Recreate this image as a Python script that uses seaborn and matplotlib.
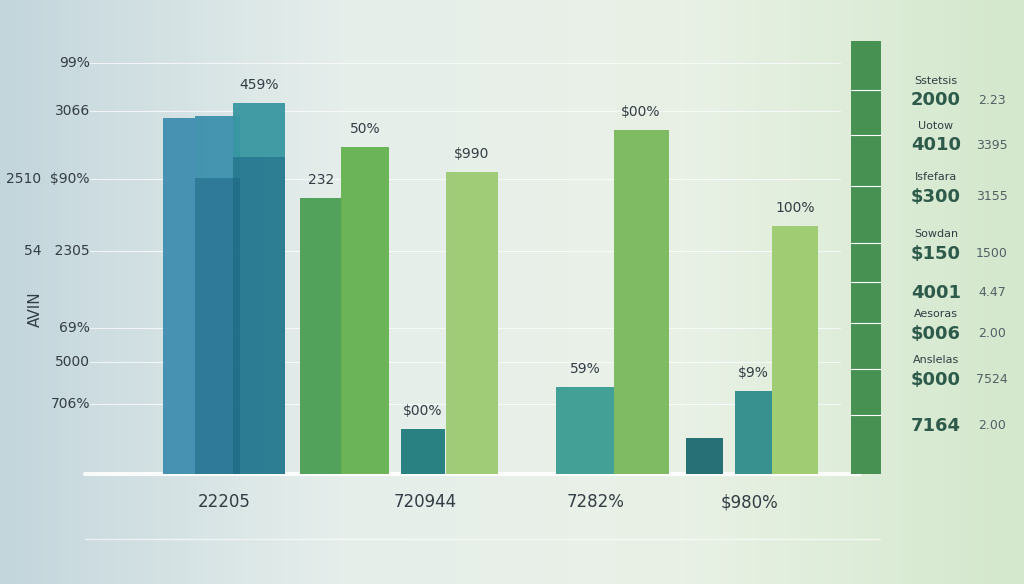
import numpy as np
import seaborn as sns
import matplotlib.pyplot as plt
from matplotlib.colors import LinearSegmentedColormap

# bar values (tall right bar = 100)
bar_x = [179, 217, 259, 321, 365, 472, 423, 585, 641, 704, 753, 795, 866]
bar_w = [32, 45, 52, 42, 48, 52, 44, 58, 55, 37, 37, 46, 30]
bar_vals = [82.2, 82.7, 85.7, 63.7, 75.5, 69.7, 10.4, 20.1, 79.4, 8.3, 19.2, 57.3, 100]
inner_vals = [None, 68.4, 73.2, None, None, None, None, None, None, None, None, None, None]
bar_colors = ["#3f8db0", "#3d90ad", "#3897a2", "#4a9e54", "#66b150", "#9cca72",
              "#1f7b7c", "#3a9c93", "#7ab95c", "#1c6a70", "#2f8c8a", "#9dcb6e", "#3f8c4c"]
bar_labels = ["", "", "459%", "232", "50%", "$990", "$00%", "59%", "$00%", "", "$9%", "100%", ""]

left_labels = ["99%", "3066", "2510  $90%", "54   2305", "69%", "5000", "706%"]
left_vals = [94.9, 83.8, 68.1, 51.5, 33.7, 25.9, 16.2]
x_labels = ["22205", "720944", "7282%", "$980%"]
x_pos = [224, 425, 596, 750]
right_big = ["2000", "4010", "$300", "$150", "4001", "$006", "$000", "7164"]
right_small = ["Sstetsis", "Uotow", "Isfefara", "Sowdan", "", "Aesoras", "Anslelas", ""]
right_num = ["2.23", "3395", "3155", "1500", "4.47", "2.00", "7524", "2.00"]
right_vals = [84.8, 74.4, 62.6, 49.4, 40.4, 30.9, 20.3, 9.7]

sns.set_theme(style="white")
plt.rcParams['font.family'] = ['DejaVu Sans']
fig = plt.figure(figsize=(10.24, 5.84), dpi=100)
ax = fig.add_axes([0, 0, 1, 1])
ax.set_xlim(0, 1024)
ax.set_ylim(-25.4, 109.5)
ax.axis("off")

cmap = LinearSegmentedColormap.from_list("bg", ["#c3d6dc", "#e6eeeb", "#e9f1e6", "#d3e8cc"])
grad = np.tile(np.linspace(0, 1, 256), (16, 1))
ax.imshow(grad, cmap=cmap, extent=[0, 1024, -25.4, 109.5], aspect="auto", zorder=0)

for v in [94.9, 83.8, 68.1, 51.5, 33.7, 25.9, 16.2]:
    ax.plot([90, 840], [v, v], color="white", lw=0.8, alpha=0.7, zorder=1)
ax.plot([85, 860], [0, 0], color="white", lw=3, alpha=0.9, zorder=1)
ax.plot([85, 880], [-15, -15], color="white", lw=1, alpha=0.6, zorder=1)

ax.bar(bar_x, bar_vals, width=bar_w, color=bar_colors, edgecolor="none", linewidth=0,
       zorder=2, alpha=0.95)
for x, w, v in zip(bar_x, bar_w, inner_vals):
    if v is not None:
        ax.bar(x, v, width=w, color="#1d6685", alpha=0.55, edgecolor="none", linewidth=0, zorder=3)
for x, v, t in zip(bar_x, bar_vals, bar_labels):
    if t:
        ax.text(x, v + 2.5, t, ha="center", va="bottom", fontsize=10, color="#333d44", zorder=4)
# separators on tall bar
for v in right_vals:
    ax.plot([851, 881], [v + 4, v + 4], color="white", lw=0.8, zorder=4)

for t, v in zip(left_labels, left_vals):
    ax.text(90, v, t, ha="right", va="center", fontsize=10, color="#333d44")
ax.text(35, 38, "AVIN", rotation=90, ha="center", va="center", fontsize=11, color="#333d44")
for t, x in zip(x_labels, x_pos):
    ax.text(x, -6.5, t, ha="center", va="center", fontsize=12, color="#333d44")

for b, s, n, v in zip(right_big, right_small, right_num, right_vals):
    ax.text(936, v + 1.5, b, ha="center", va="center", fontsize=13, fontweight="bold",
            color="#2d5a4a")
    if s:
        ax.text(936, v + 6, s, ha="center", va="center", fontsize=8, color="#333d44")
    ax.text(992, v + 1.5, n, ha="center", va="center", fontsize=9, color="#555f66")

fig.savefig("out.png", dpi=100)
